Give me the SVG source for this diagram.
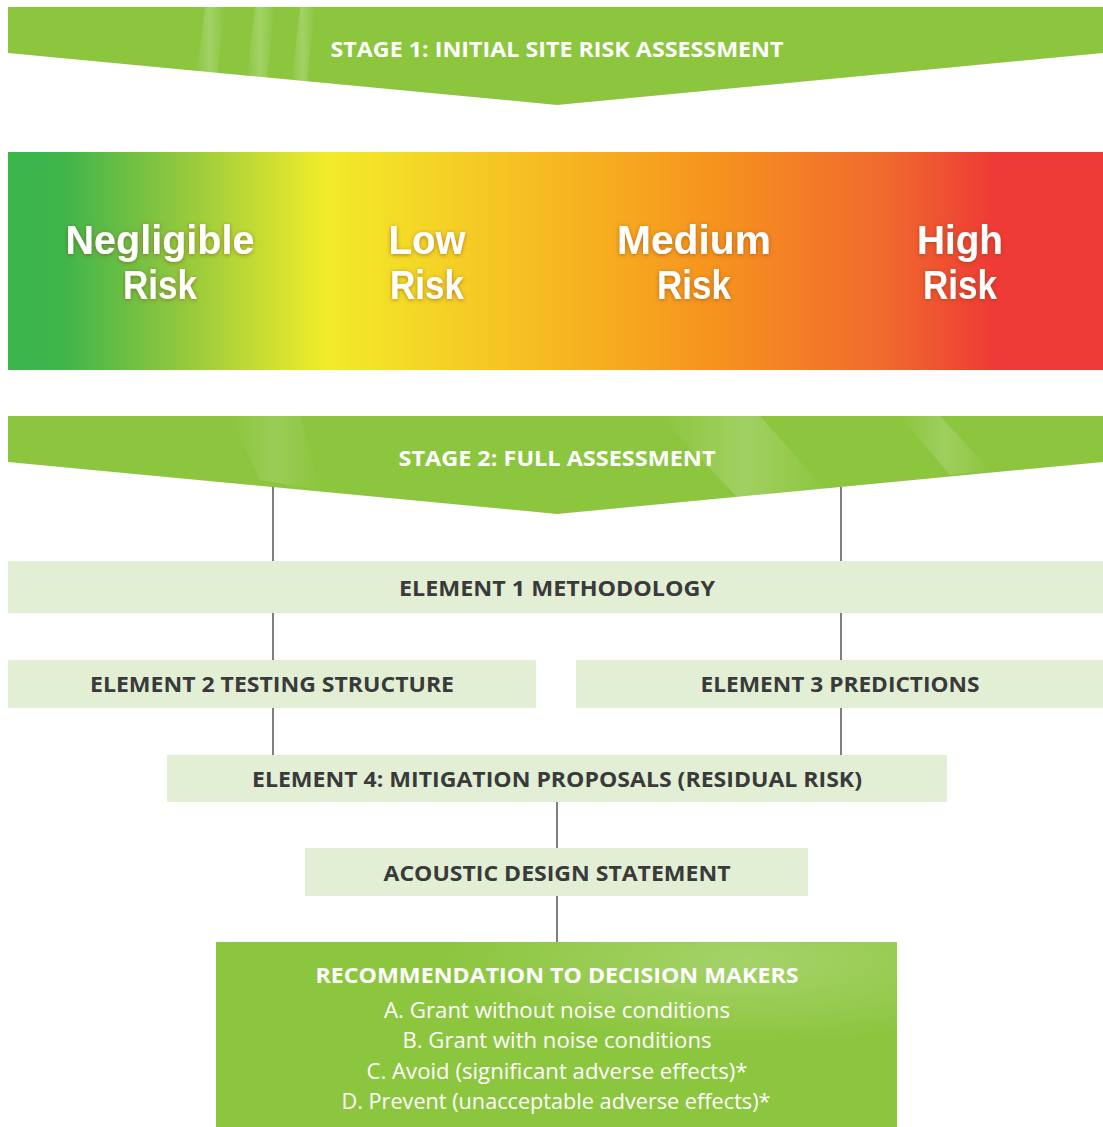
<svg xmlns="http://www.w3.org/2000/svg" width="1103" height="1127" viewBox="0 0 1103 1127">
<defs>
<linearGradient id="risk" x1="8" y1="0" x2="1103" y2="0" gradientUnits="userSpaceOnUse">
<stop offset="0" stop-color="#39b54a"/>
<stop offset="0.05" stop-color="#3fb54a"/>
<stop offset="0.15" stop-color="#8cc63f"/>
<stop offset="0.29" stop-color="#f2ec2a"/>
<stop offset="0.5" stop-color="#f7b821"/>
<stop offset="0.65" stop-color="#f6921e"/>
<stop offset="0.8" stop-color="#f06a2e"/>
<stop offset="0.9" stop-color="#ee3b35"/>
<stop offset="1" stop-color="#ee3b35"/>
</linearGradient>
<linearGradient id="sheen" x1="0" y1="0" x2="1" y2="0">
<stop offset="0" stop-color="#ffffff" stop-opacity="0"/>
<stop offset="0.5" stop-color="#ffffff" stop-opacity="0.2"/>
<stop offset="1" stop-color="#ffffff" stop-opacity="0"/>
</linearGradient>
<radialGradient id="recsheen" cx="0.78" cy="0.1" r="0.45">
<stop offset="0" stop-color="#ffffff" stop-opacity="0.22"/>
<stop offset="1" stop-color="#ffffff" stop-opacity="0"/>
</radialGradient>
<filter id="glow" x="-20%" y="-30%" width="140%" height="160%">
<feGaussianBlur in="SourceAlpha" stdDeviation="2"/>
<feOffset dx="0" dy="1" result="b"/>
<feFlood flood-color="#7a3a10" flood-opacity="0.55"/>
<feComposite in2="b" operator="in"/>
<feMerge><feMergeNode/><feMergeNode in="SourceGraphic"/></feMerge>
</filter>
</defs>
<style>
.banner{fill:#8cc63f}
.btxt{font-family:"Open Sans","DejaVu Sans",sans-serif;font-weight:bold;font-size:21px;fill:#ffffff;text-anchor:middle}
.box{fill:#e2efd5}
.etxt{font-family:"Open Sans","DejaVu Sans",sans-serif;font-weight:bold;font-size:21px;fill:#3a3a3a;text-anchor:middle}
.risk{font-family:"Liberation Sans",Arial,sans-serif;font-weight:bold;font-size:40px;fill:#ffffff;text-anchor:middle}
.rtxt{font-family:"Open Sans","DejaVu Sans",sans-serif;font-size:21px;fill:#ffffff;text-anchor:middle}
.conn{stroke:#7f7f7f;stroke-width:2;fill:none}
</style>

<g id="stage1">
<polygon class="banner" points="8,7 1103,7 1103,53 557,105 8,53"/>
<polygon fill="url(#sheen)" points="205,7 225,7 215,90 195,88"/>
<polygon fill="url(#sheen)" points="255,7 275,7 265,96 245,94"/>
<polygon fill="url(#sheen)" points="300,7 315,7 305,98 290,97"/>
<text class="btxt" x="557" y="57" textLength="453" lengthAdjust="spacingAndGlyphs">STAGE 1: INITIAL SITE RISK ASSESSMENT</text>
</g>

<g id="risk-scale">
<rect x="8" y="152" width="1095" height="218" fill="url(#risk)"/>
<g filter="url(#glow)">
<text class="risk" x="160" y="254" textLength="189" lengthAdjust="spacingAndGlyphs">Negligible</text>
<text class="risk" x="160" y="299" textLength="74" lengthAdjust="spacingAndGlyphs">Risk</text>
<text class="risk" x="427" y="254" textLength="77" lengthAdjust="spacingAndGlyphs">Low</text>
<text class="risk" x="427" y="299" textLength="74" lengthAdjust="spacingAndGlyphs">Risk</text>
<text class="risk" x="694" y="254" textLength="154" lengthAdjust="spacingAndGlyphs">Medium</text>
<text class="risk" x="694" y="299" textLength="74" lengthAdjust="spacingAndGlyphs">Risk</text>
<text class="risk" x="960" y="254" textLength="86" lengthAdjust="spacingAndGlyphs">High</text>
<text class="risk" x="960" y="299" textLength="74" lengthAdjust="spacingAndGlyphs">Risk</text>
</g>
</g>

<g id="connectors">
<line class="conn" x1="273" y1="487" x2="273" y2="561"/>
<line class="conn" x1="841" y1="487" x2="841" y2="561"/>
<line class="conn" x1="273" y1="613" x2="273" y2="660"/>
<line class="conn" x1="841" y1="613" x2="841" y2="660"/>
<line class="conn" x1="273" y1="708" x2="273" y2="755"/>
<line class="conn" x1="841" y1="708" x2="841" y2="755"/>
<line class="conn" x1="557" y1="802" x2="557" y2="848"/>
<line class="conn" x1="557" y1="896" x2="557" y2="942"/>
</g>

<g id="stage2">
<polygon class="banner" points="8,416 1103,416 1103,462 557,514 8,462"/>
<polygon fill="url(#sheen)" points="660,416 760,416 830,495 740,500" opacity="0.9"/>
<polygon fill="url(#sheen)" points="900,416 940,416 990,470 950,475" opacity="0.8"/>
<polygon fill="url(#sheen)" points="230,416 300,416 320,490 260,480" opacity="0.6"/>
<text class="btxt" x="557" y="466" textLength="317" lengthAdjust="spacingAndGlyphs">STAGE 2: FULL ASSESSMENT</text>
</g>

<g id="element1">
<rect class="box" x="8" y="561" width="1095" height="52"/>
<text class="etxt" x="557" y="596" textLength="316" lengthAdjust="spacingAndGlyphs">ELEMENT 1 METHODOLOGY</text>
</g>

<g id="element2">
<rect class="box" x="8" y="660" width="528" height="48"/>
<text class="etxt" x="272" y="692" textLength="364" lengthAdjust="spacingAndGlyphs">ELEMENT 2 TESTING STRUCTURE</text>
</g>

<g id="element3">
<rect class="box" x="576" y="660" width="527" height="48"/>
<text class="etxt" x="840" y="692" textLength="279" lengthAdjust="spacingAndGlyphs">ELEMENT 3 PREDICTIONS</text>
</g>

<g id="element4">
<rect class="box" x="167" y="755" width="780" height="47"/>
<text class="etxt" x="557" y="787" textLength="610" lengthAdjust="spacingAndGlyphs">ELEMENT 4: MITIGATION PROPOSALS (RESIDUAL RISK)</text>
</g>

<g id="acoustic">
<rect class="box" x="305" y="848" width="503" height="48"/>
<text class="etxt" x="557" y="881" textLength="347" lengthAdjust="spacingAndGlyphs">ACOUSTIC DESIGN STATEMENT</text>
</g>

<g id="recommendation">
<rect class="banner" x="216" y="942" width="681" height="185"/>
<rect x="216" y="942" width="681" height="185" fill="url(#recsheen)"/>
<text class="btxt" x="557" y="983" textLength="483" lengthAdjust="spacingAndGlyphs">RECOMMENDATION TO DECISION MAKERS</text>
<text class="rtxt" x="557" y="1018" textLength="346" lengthAdjust="spacingAndGlyphs">A. Grant without noise conditions</text>
<text class="rtxt" x="557" y="1048" textLength="309" lengthAdjust="spacingAndGlyphs">B. Grant with noise conditions</text>
<text class="rtxt" x="557" y="1079" textLength="381" lengthAdjust="spacingAndGlyphs">C. Avoid (significant adverse effects)*</text>
<text class="rtxt" x="556" y="1109" textLength="429" lengthAdjust="spacingAndGlyphs">D. Prevent (unacceptable adverse effects)*</text>
</g>
</svg>
